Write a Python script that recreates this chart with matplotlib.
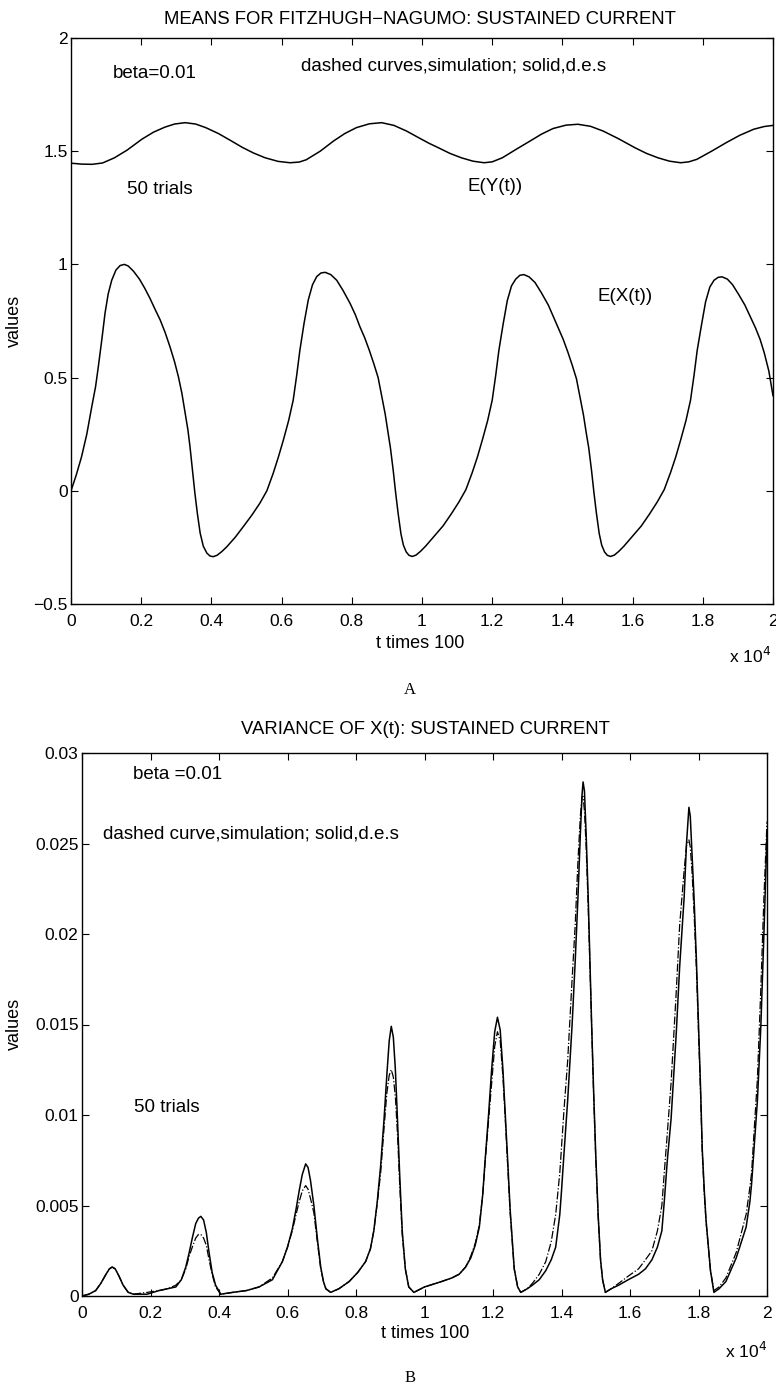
import numpy as np
import matplotlib
matplotlib.use('Agg')
import matplotlib.pyplot as plt

plt.rcParams['font.family'] = ['Liberation Sans', 'DejaVu Sans']

# ---- panel A: means, (t / 1e4, value) ----
ex_pts = [
    (0.0, 0.0), (0.015, 0.07), (0.03, 0.15), (0.045, 0.25), (0.059, 0.37),
    (0.07, 0.46), (0.078, 0.55), (0.088, 0.67), (0.097, 0.785), (0.106, 0.87),
    (0.116, 0.93), (0.128, 0.975), (0.14, 0.995), (0.152, 1.0), (0.163, 0.993),
    (0.178, 0.97), (0.195, 0.935), (0.21, 0.895), (0.225, 0.85), (0.24, 0.80),
    (0.254, 0.755), (0.268, 0.70), (0.282, 0.636), (0.295, 0.57), (0.306, 0.504),
    (0.316, 0.43), (0.325, 0.344), (0.333, 0.27), (0.339, 0.195), (0.346, 0.09),
    (0.353, -0.011), (0.36, -0.10), (0.368, -0.187), (0.377, -0.245), (0.387, -0.275),
    (0.396, -0.288), (0.405, -0.291), (0.416, -0.285), (0.43, -0.268), (0.444, -0.247),
    (0.468, -0.205), (0.491, -0.158), (0.515, -0.108), (0.538, -0.055), (0.558, 0.0),
    (0.576, 0.077), (0.591, 0.15), (0.605, 0.224), (0.62, 0.31), (0.633, 0.40),
    (0.643, 0.51), (0.652, 0.62), (0.664, 0.74), (0.676, 0.843), (0.688, 0.91),
    (0.70, 0.946), (0.712, 0.962), (0.724, 0.965), (0.74, 0.955), (0.757, 0.93),
    (0.775, 0.885), (0.795, 0.828), (0.81, 0.778), (0.823, 0.725), (0.837, 0.675),
    (0.85, 0.62), (0.863, 0.56), (0.875, 0.50), (0.885, 0.42), (0.895, 0.34),
    (0.903, 0.26), (0.91, 0.19), (0.918, 0.09), (0.925, -0.01), (0.932, -0.10),
    (0.94, -0.19), (0.947, -0.24), (0.955, -0.27), (0.963, -0.285), (0.972, -0.29),
    (0.983, -0.284), (0.996, -0.267), (1.01, -0.245), (1.035, -0.20), (1.06, -0.155),
    (1.083, -0.103), (1.105, -0.05), (1.125, 0.005), (1.143, 0.08), (1.158, 0.15),
    (1.172, 0.225), (1.187, 0.31), (1.20, 0.40), (1.21, 0.51), (1.219, 0.62),
    (1.231, 0.735), (1.243, 0.84), (1.255, 0.905), (1.267, 0.935), (1.279, 0.952),
    (1.29, 0.955), (1.305, 0.945), (1.322, 0.92), (1.34, 0.875), (1.36, 0.82),
    (1.374, 0.77), (1.388, 0.72), (1.402, 0.67), (1.415, 0.615), (1.428, 0.555),
    (1.44, 0.495), (1.45, 0.415), (1.46, 0.335), (1.468, 0.255), (1.475, 0.19),
    (1.483, 0.09), (1.49, -0.01), (1.497, -0.10), (1.505, -0.19), (1.512, -0.24),
    (1.52, -0.27), (1.528, -0.285), (1.537, -0.29), (1.548, -0.284), (1.561, -0.267),
    (1.575, -0.245), (1.60, -0.20), (1.625, -0.155), (1.648, -0.103), (1.67, -0.05),
    (1.69, 0.005), (1.708, 0.08), (1.723, 0.15), (1.737, 0.225), (1.752, 0.31),
    (1.765, 0.40), (1.775, 0.51), (1.784, 0.62), (1.796, 0.73), (1.808, 0.835),
    (1.82, 0.90), (1.832, 0.93), (1.844, 0.943), (1.855, 0.945), (1.87, 0.935),
    (1.885, 0.91), (1.903, 0.865), (1.92, 0.82), (1.935, 0.77), (1.95, 0.72),
    (1.963, 0.67), (1.975, 0.61), (1.988, 0.53), (2.0, 0.42),
]

ey_pts = [
    (0.0, 1.447), (0.03, 1.443), (0.06, 1.442), (0.09, 1.448), (0.124, 1.471),
    (0.16, 1.505), (0.202, 1.553), (0.235, 1.584), (0.267, 1.606), (0.295, 1.620),
    (0.325, 1.626), (0.355, 1.620), (0.384, 1.604), (0.42, 1.578), (0.455, 1.547),
    (0.488, 1.517), (0.52, 1.492), (0.553, 1.471), (0.59, 1.455), (0.624, 1.449),
    (0.65, 1.452), (0.67, 1.462), (0.71, 1.500), (0.748, 1.545), (0.78, 1.578),
    (0.813, 1.604), (0.85, 1.621), (0.885, 1.626), (0.92, 1.614), (0.956, 1.589),
    (0.99, 1.56), (1.02, 1.535), (1.047, 1.515), (1.08, 1.49), (1.112, 1.471),
    (1.145, 1.456), (1.177, 1.449), (1.20, 1.453), (1.229, 1.471), (1.27, 1.51),
    (1.308, 1.545), (1.34, 1.575), (1.373, 1.600), (1.41, 1.615), (1.444, 1.619),
    (1.48, 1.61), (1.516, 1.589), (1.56, 1.555), (1.607, 1.515), (1.64, 1.49),
    (1.672, 1.471), (1.705, 1.456), (1.737, 1.449), (1.76, 1.453), (1.783, 1.464),
    (1.825, 1.50), (1.867, 1.538), (1.905, 1.57), (1.945, 1.597), (1.975, 1.609),
    (2.0, 1.614),
]

# ---- panel B: variance of X(t) ----
var_t = [0.0, 0.02, 0.04, 0.055, 0.07, 0.08, 0.088, 0.097, 0.108, 0.12,
         0.135, 0.15, 0.19, 0.225, 0.25, 0.274, 0.29, 0.303, 0.313, 0.322,
         0.332, 0.34, 0.347, 0.355, 0.363, 0.371, 0.38, 0.39, 0.405, 0.44,
         0.48, 0.517, 0.556, 0.585, 0.60, 0.614, 0.625, 0.634, 0.643, 0.653,
         0.66, 0.667, 0.677, 0.687, 0.697, 0.705, 0.712, 0.726, 0.75, 0.78,
         0.805, 0.828, 0.842, 0.852, 0.862, 0.872, 0.882, 0.89, 0.897, 0.903,
         0.909, 0.915, 0.921, 0.928, 0.935, 0.944, 0.954, 0.969, 1.0, 1.05,
         1.08, 1.101, 1.12, 1.135, 1.148, 1.16, 1.17, 1.177, 1.187, 1.196,
         1.205, 1.213, 1.221, 1.229, 1.236, 1.242, 1.25, 1.262, 1.272, 1.281,
         1.3, 1.315, 1.335, 1.354, 1.37, 1.383, 1.395, 1.40, 1.407, 1.418,
         1.431, 1.44, 1.448, 1.455, 1.46, 1.463, 1.467, 1.472, 1.478, 1.483,
         1.488, 1.494, 1.50, 1.507, 1.514, 1.52, 1.528, 1.545, 1.567, 1.595,
         1.625, 1.645, 1.664, 1.68, 1.693, 1.70, 1.709, 1.72, 1.735, 1.745,
         1.758, 1.765, 1.772, 1.776, 1.781, 1.787, 1.794, 1.80, 1.806, 1.811,
         1.817, 1.822, 1.835, 1.845, 1.86, 1.88, 1.91, 1.939, 1.95, 1.955,
         1.962, 1.972, 1.982, 1.991, 2.0]
# solid: d.e.s.
var_des = [0, 0.0001, 0.0003, 0.0007, 0.0012, 0.0015, 0.0016, 0.0015, 0.0011, 0.0006,
           0.0002, 0.0001, 0.0001, 0.0003, 0.0004, 0.0005, 0.0009, 0.0016, 0.0024, 0.0032,
           0.004, 0.0043, 0.0044, 0.0042, 0.0035, 0.0024, 0.0013, 0.0006, 0.0001, 0.0002,
           0.0003, 0.0005, 0.0009, 0.0019, 0.0027, 0.0037, 0.0048, 0.0058, 0.0067, 0.0073,
           0.0071, 0.0064, 0.005, 0.0032, 0.0016, 0.0008, 0.0004, 0.0002, 0.0004, 0.0008,
           0.0013, 0.0019, 0.0026, 0.0036, 0.0052, 0.0072, 0.0098, 0.0122, 0.0141, 0.0149,
           0.0143, 0.0125, 0.0098, 0.0065, 0.0036, 0.0015, 0.0005, 0.0002, 0.0005, 0.0008,
           0.001, 0.0012, 0.0016, 0.0021, 0.0028, 0.0038, 0.0056, 0.0075, 0.01, 0.0125,
           0.0146, 0.0154, 0.0147, 0.0125, 0.01, 0.0078, 0.0048, 0.0015, 0.0005, 0.0002,
           0.0004, 0.0006, 0.0009, 0.0014, 0.002, 0.0027, 0.0045, 0.0058, 0.0078, 0.0108,
           0.015, 0.0185, 0.022, 0.0255, 0.0277, 0.0284, 0.0279, 0.0255, 0.022, 0.0185,
           0.015, 0.0112, 0.0078, 0.0045, 0.002, 0.0009, 0.0002, 0.0004, 0.0006, 0.0009,
           0.0012, 0.0015, 0.002, 0.0027, 0.0036, 0.0052, 0.0075, 0.0098, 0.0145, 0.0182,
           0.022, 0.025, 0.027, 0.0265, 0.0245, 0.022, 0.0185, 0.015, 0.0115, 0.0081,
           0.0058, 0.0042, 0.0014, 0.0002, 0.0004, 0.0008, 0.0021, 0.0038, 0.0052, 0.0062,
           0.0081, 0.0108, 0.0149, 0.02, 0.0255]
# dash-dot: simulation, 50 trials
var_sim = [0, 0.0001, 0.0003, 0.0007, 0.0012, 0.0015, 0.0016, 0.0015, 0.0011, 0.0006,
           0.0002, 0.0001, 0.0002, 0.0003, 0.0004, 0.0006, 0.0009, 0.0015, 0.0022, 0.0027,
           0.0032, 0.0034, 0.0034, 0.0032, 0.0028, 0.002, 0.0012, 0.0005, 0.0001, 0.0002,
           0.0003, 0.0005, 0.001, 0.0019, 0.0027, 0.0036, 0.0045, 0.0052, 0.0058, 0.0061,
           0.0059, 0.0054, 0.0046, 0.003, 0.0015, 0.0008, 0.0004, 0.0002, 0.0004, 0.0008,
           0.0013, 0.0019, 0.0026, 0.0036, 0.0051, 0.0068, 0.0093, 0.0112, 0.0122, 0.0125,
           0.0121, 0.011, 0.009, 0.006, 0.0034, 0.0015, 0.0005, 0.0002, 0.0005, 0.0008,
           0.001, 0.0012, 0.0016, 0.0022, 0.0029, 0.0039, 0.0056, 0.0074, 0.0097, 0.0118,
           0.0138, 0.0146, 0.0141, 0.0121, 0.0097, 0.0075, 0.0046, 0.0015, 0.0005, 0.0002,
           0.0004, 0.0007, 0.0012, 0.0019, 0.003, 0.0045, 0.0068, 0.0082, 0.0102, 0.013,
           0.0175, 0.0205, 0.024, 0.0265, 0.0276, 0.0276, 0.0268, 0.0248, 0.0215, 0.0182,
           0.0147, 0.011, 0.0076, 0.0044, 0.002, 0.0009, 0.0002, 0.0004, 0.0007, 0.0011,
           0.0015, 0.002, 0.0025, 0.0036, 0.005, 0.0068, 0.009, 0.0118, 0.0168, 0.0205,
           0.0235, 0.0249, 0.0252, 0.0248, 0.0235, 0.0212, 0.018, 0.0146, 0.0112, 0.0079,
           0.0056, 0.0041, 0.0014, 0.0003, 0.0005, 0.001, 0.0024, 0.0045, 0.006, 0.0068,
           0.009, 0.012, 0.017, 0.022, 0.0262]

xticks = [0, 0.2, 0.4, 0.6, 0.8, 1, 1.2, 1.4, 1.6, 1.8, 2]
xticklabels = ['0', '0.2', '0.4', '0.6', '0.8', '1', '1.2', '1.4', '1.6', '1.8', '2']
yticks_a = [-0.5, 0, 0.5, 1, 1.5, 2]
yticklabels_a = ['\u22120.5', '0', '0.5', '1', '1.5', '2']
yticks_b = [0, 0.005, 0.01, 0.015, 0.02, 0.025, 0.03]
yticklabels_b = ['0', '0.005', '0.01', '0.015', '0.02', '0.025', '0.03']

TICK_FS = 12.5
TXT_FS = 13.5
LAB_FS = 13

W, H = 776, 1388
fig = plt.figure(figsize=(W / 100, H / 100), dpi=100)


def fx(px):
    return px / W


def fy(py):
    return 1 - py / H


def style_axes(ax):
    ax.tick_params(direction='in', top=True, right=True, length=5, width=0.8,
                   labelsize=TICK_FS)
    ax.tick_params(axis='x', pad=7.5)
    ax.tick_params(axis='y', pad=2.5)
    for s in ax.spines.values():
        s.set_linewidth(1.0)
    ax.set_xlim(0, 2)
    ax.set_xticks(xticks)
    ax.set_xticklabels(xticklabels)


# panel A
axA = fig.add_axes([fx(71), fy(604), fx(702), 566 / H])
axA.plot([p[0] for p in ey_pts], [p[1] for p in ey_pts], color='black', lw=1.1)
axA.plot([p[0] for p in ex_pts], [p[1] for p in ex_pts], color='black', lw=1.1)
style_axes(axA)
axA.set_ylim(-0.5, 2)
axA.set_yticks(yticks_a)
axA.set_yticklabels(yticklabels_a)
axA.text(0.12, 1.845, 'beta=0.01', fontsize=TXT_FS, va='center')
axA.text(0.655, 1.876, 'dashed curves,simulation; solid,d.e.s', fontsize=TXT_FS, va='center')
axA.text(0.16, 1.33, '50 trials', fontsize=TXT_FS, va='center')
axA.text(1.131, 1.346, 'E(Y(t))', fontsize=TXT_FS, va='center')
axA.text(1.5, 0.86, 'E(X(t))', fontsize=TXT_FS, va='center')

fig.text(fx(420), fy(19), 'MEANS FOR FITZHUGH\u2212NAGUMO: SUSTAINED CURRENT',
         ha='center', va='center', fontsize=13.3)
fig.text(fx(420), fy(643), 't times 100', ha='center', va='center', fontsize=LAB_FS)
fig.text(fx(771), fy(656), 'x 10$^4$', ha='right', va='center', fontsize=TICK_FS)
fig.text(fx(14), fy(321), 'values', ha='center', va='center', rotation=90, fontsize=LAB_FS)
fig.text(fx(410), fy(690), 'A', ha='center', va='center', fontsize=12,
         family=['Liberation Serif', 'DejaVu Serif'])

# panel B
axB = fig.add_axes([fx(82), fy(1296), fx(685), 543 / H])
axB.plot(var_t, var_sim, color='black', lw=0.9, linestyle='-.')
axB.plot(var_t, var_des, color='black', lw=1.1)
style_axes(axB)
axB.set_ylim(0, 0.03)
axB.set_yticks(yticks_b)
axB.set_yticklabels(yticklabels_b)
axB.text(0.15, 0.0288, 'beta =0.01', fontsize=TXT_FS, va='center')
axB.text(0.06, 0.0255, 'dashed curve,simulation; solid,d.e.s', fontsize=TXT_FS, va='center')
axB.text(0.152, 0.0104, '50 trials', fontsize=TXT_FS, va='center')

fig.text(fx(425), fy(729), 'VARIANCE OF X(t): SUSTAINED CURRENT',
         ha='center', va='center', fontsize=13.3)
fig.text(fx(425), fy(1334), 't times 100', ha='center', va='center', fontsize=LAB_FS)
fig.text(fx(767), fy(1351), 'x 10$^4$', ha='right', va='center', fontsize=TICK_FS)
fig.text(fx(14), fy(1024), 'values', ha='center', va='center', rotation=90, fontsize=LAB_FS)
fig.text(fx(410), fy(1378), 'B', ha='center', va='center', fontsize=12,
         family=['Liberation Serif', 'DejaVu Serif'])

fig.savefig('out.png', dpi=100)
